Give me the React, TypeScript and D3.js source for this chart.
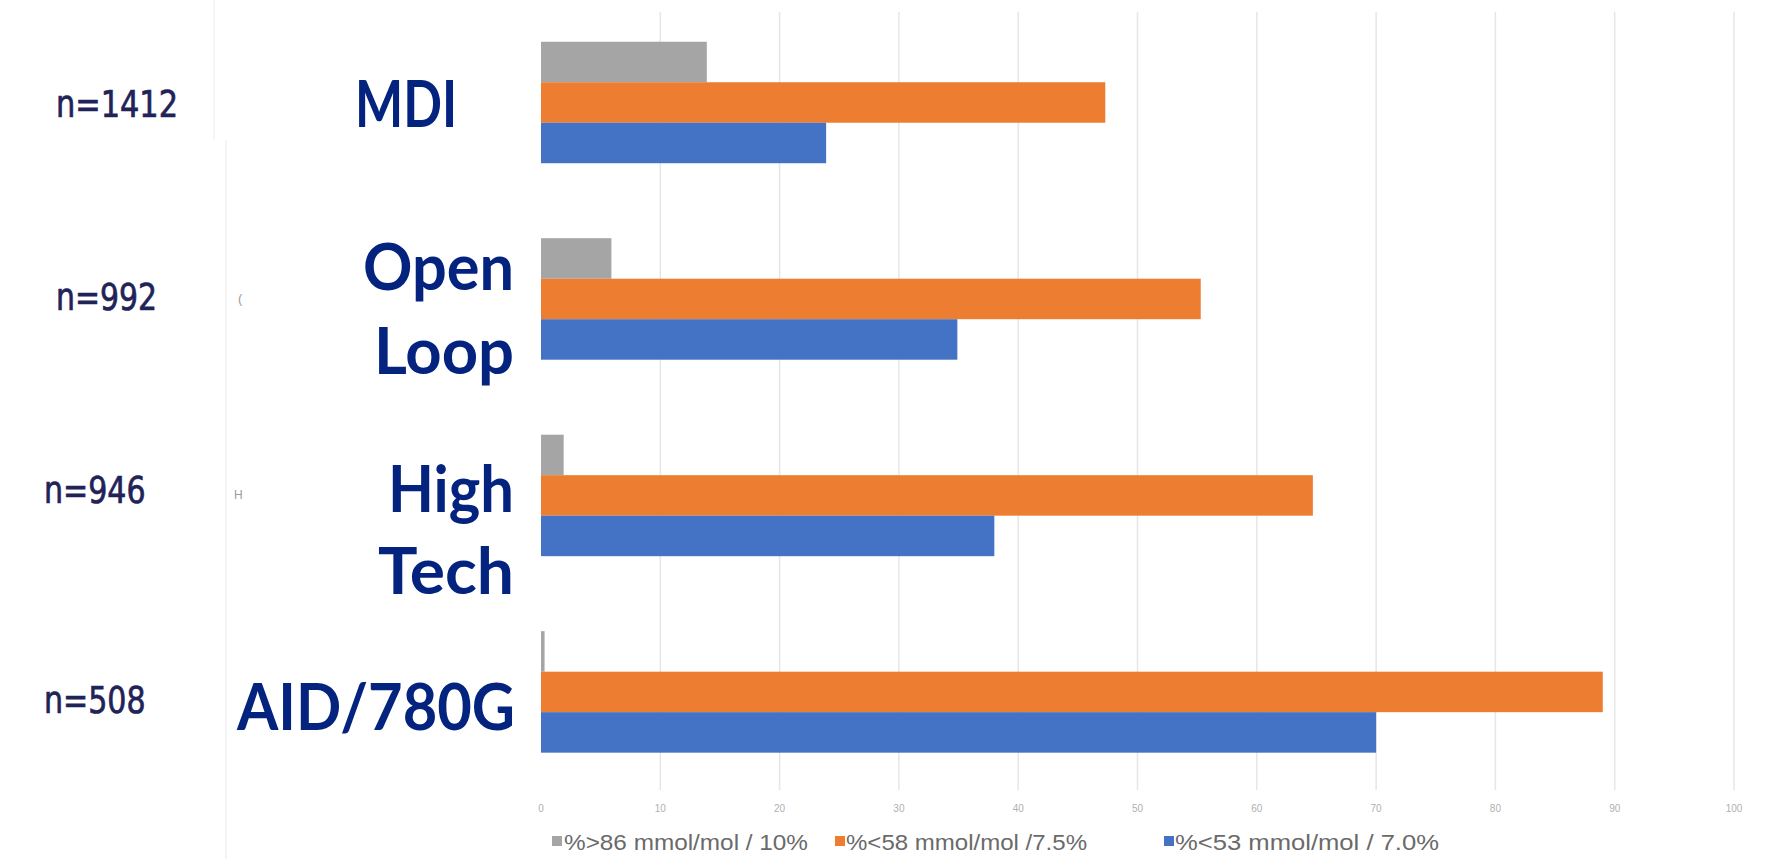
import React from "react";
import * as d3 from "d3";

const categories = ["MDI", "Open Loop", "High Tech", "AID/780G"];
const categoryLines = [["MDI"], ["Open", "Loop"], ["High", "Tech"], ["AID/780G"]];
const sampleSizes = ["n=1412", "n=992", "n=946", "n=508"];
const seriesNames = ["%>86 mmol/mol / 10%", "%<58 mmol/mol /7.5%", "%<53 mmol/mol / 7.0%"];
const above86 = [13.9, 5.9, 1.9, 0.3];
const below58 = [47.3, 55.3, 64.7, 89.0];
const below53 = [23.9, 34.9, 38.0, 70.0];
const xTicks = [0, 10, 20, 30, 40, 50, 60, 70, 80, 90, 100];

const seriesColors = ["#a5a5a5", "#ed7d31", "#4472c4"];
const navy = "#03237f";
const nColor = "#1f2358";

// layout of the text labels (offsets relative to band centre)
const catLayout = [
  { endX: 457, baselines: [24.5], widths: [102] },
  { endX: 514, baselines: [-8.5, 75.5], widths: [151, 140] },
  { endX: 514, baselines: [17, 99], widths: [126, 136] },
  { endX: 515, baselines: [38], widths: [278] },
];
const nLayout = [
  { x: 56, dy: 14.5, w: 122 },
  { x: 56, dy: 10.7, w: 101 },
  { x: 44, dy: 8, w: 101.6 },
  { x: 44, dy: 21, w: 101.6 },
];
const legendLayout = [
  { sx: 552, tx: 564, w: 244 },
  { sx: 835, tx: 846, w: 241 },
  { sx: 1164, tx: 1175, w: 264 },
];

export default function App() {
  const W = 1765;
  const H = 859;
  const x = d3.scaleLinear().domain([0, 100]).range([541, 1734]);
  const y = d3
    .scaleBand<string>()
    .domain(categories)
    .range([4.4, 790])
    .paddingInner(0.3817)
    .paddingOuter(0.19);
  const series = [above86, below58, below53];
  const y1 = d3
    .scaleBand<number>()
    .domain([0, 1, 2])
    .range([0, y.bandwidth()])
    .padding(0);

  return (
    <svg
      width={W}
      height={H}
      style={{ position: "fixed", left: 0, top: 0, background: "#ffffff" }}
    >
      <rect x={0} y={0} width={W} height={H} fill="#ffffff" />
      {/* faint background rules */}
      <line x1={214} x2={214} y1={0} y2={140} stroke="#f3f3f3" strokeWidth={1.5} />
      <line x1={226} x2={226} y1={140} y2={H} stroke="#f0f0f0" strokeWidth={1.5} />
      {/* gridlines */}
      {xTicks
        .filter((t) => t > 0)
        .map((t) => (
          <line
            key={"g" + t}
            x1={x(t)}
            x2={x(t)}
            y1={12}
            y2={790}
            stroke="#e6e6e6"
            strokeWidth={1.5}
          />
        ))}
      {/* bars */}
      {categories.map((c, ci) => (
        <g key={c} transform={`translate(0,${y(c)})`}>
          {series.map((s, si) => (
            <rect
              key={si}
              x={x(0)}
              y={y1(si)}
              width={Math.max(0, x(s[ci]) - x(0))}
              height={y1.bandwidth()}
              fill={seriesColors[si]}
            />
          ))}
        </g>
      ))}
      {/* tick labels */}
      {xTicks.map((t) => (
        <text
          key={"t" + t}
          x={x(t)}
          y={809}
          fontSize={10}
          fill="#b0b0b0"
          textAnchor="middle"
          dominantBaseline="middle"
          fontFamily="Liberation Sans, Arial, sans-serif"
        >
          {t}
        </text>
      ))}
      {/* category labels */}
      {categories.map((c, ci) => {
        const cy = (y(c) as number) + y.bandwidth() / 2;
        const L = catLayout[ci];
        return categoryLines[ci].map((line, li) => (
          <text
            key={c + li}
            x={L.endX - L.widths[li]}
            y={cy + L.baselines[li]}
            fontSize={65}
            fontWeight={700}
            fill={navy}
            fontFamily="Lato, 'Open Sans', sans-serif"
            textLength={L.widths[li]}
            lengthAdjust="spacingAndGlyphs"
          >
            {line}
          </text>
        ));
      })}
      {/* sample size labels */}
      {categories.map((c, ci) => {
        const cy = (y(c) as number) + y.bandwidth() / 2;
        const L = nLayout[ci];
        return (
          <text
            key={"n" + c}
            x={L.x}
            y={cy + L.dy}
            fontSize={38}
            fill={nColor}
            stroke={nColor}
            strokeWidth={0.7}
            fontFamily="'DejaVu Sans Condensed', 'Liberation Sans Narrow', 'DejaVu Sans', sans-serif"
            textLength={L.w}
            lengthAdjust="spacingAndGlyphs"
          >
            {sampleSizes[ci]}
          </text>
        );
      })}
      {/* remnants of original axis labels */}
      <text x={238} y={303} fontSize={13} fill="#9a9a9a" fontFamily="Liberation Sans, sans-serif">(</text>
      <text x={234} y={499} fontSize={12} fill="#9a9a9a" fontFamily="Liberation Sans, sans-serif">H</text>
      {/* legend */}
      {seriesNames.map((name, i) => (
        <g key={name}>
          <rect x={legendLayout[i].sx} y={836} width={10} height={10} fill={seriesColors[i]} />
          <text
            x={legendLayout[i].tx}
            y={850}
            fontSize={22}
            fill="#6a6a6a"
            fontFamily="'Liberation Sans', Arial, sans-serif"
            textLength={legendLayout[i].w}
            lengthAdjust="spacingAndGlyphs"
          >
            {name}
          </text>
        </g>
      ))}
    </svg>
  );
}
